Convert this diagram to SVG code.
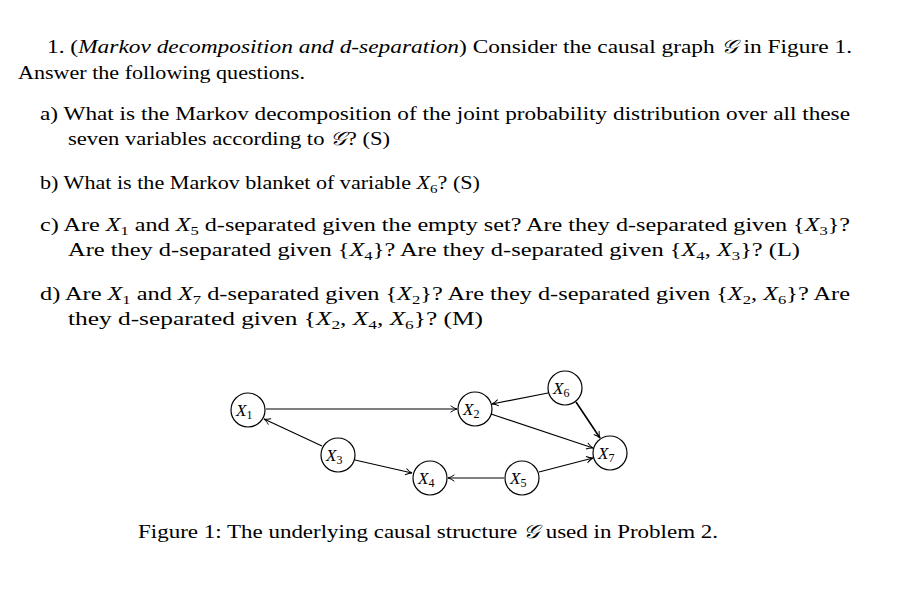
<svg xmlns="http://www.w3.org/2000/svg" width="906" height="600" viewBox="0 0 906 600">
<style>
text{font-family:"Liberation Serif","DejaVu Serif",serif;font-size:19px;fill:#000}
.i{font-style:italic}
.s{font-size:13px;font-style:normal}
.n circle{fill:#fff;stroke:#000;stroke-width:1.2}
.n text{font-size:17px;font-style:italic}
.n .s{font-style:normal;font-size:12px}
#edges line{stroke:#000;stroke-width:1.2;marker-end:url(#a)}
</style>
<defs><marker id="a" viewBox="0 0 10 10" refX="9" refY="5" markerWidth="8" markerHeight="8" orient="auto" markerUnits="userSpaceOnUse"><path d="M1,1 Q5,4 9,5 Q5,6 1,9" fill="none" stroke="#000" stroke-width="1.2"/></marker></defs>
<rect width="906" height="600" fill="#fff"/>
<text x="47" y="53" textLength="805" lengthAdjust="spacingAndGlyphs">1. (<tspan class="i">Markov decomposition and d-separation</tspan>) Consider the causal graph <tspan class="i">𝒢</tspan>  in Figure 1.</text>
<text x="18" y="79" textLength="287" lengthAdjust="spacingAndGlyphs">Answer the following questions.</text>
<text x="40" y="120" textLength="810" lengthAdjust="spacingAndGlyphs">a) What is the Markov decomposition of the joint probability distribution over all these</text>
<text x="68" y="145" textLength="322" lengthAdjust="spacingAndGlyphs">seven variables according to <tspan class="i">𝒢</tspan>? (S)</text>
<text x="40" y="189" textLength="440" lengthAdjust="spacingAndGlyphs">b) What is the Markov blanket of variable <tspan class="i">X</tspan><tspan class="s" dy="4">6</tspan><tspan dy="-4">? (S)</tspan></text>
<text x="40" y="231" textLength="810" lengthAdjust="spacingAndGlyphs">c) Are <tspan class="i">X</tspan><tspan class="s" dy="4">1</tspan><tspan dy="-4"> and </tspan><tspan class="i">X</tspan><tspan class="s" dy="4">5</tspan><tspan dy="-4"> d-separated given the empty set? Are they d-separated given {</tspan><tspan class="i">X</tspan><tspan class="s" dy="4">3</tspan><tspan dy="-4">}?</tspan></text>
<text x="68" y="256" textLength="732" lengthAdjust="spacingAndGlyphs">Are they d-separated given {<tspan class="i">X</tspan><tspan class="s" dy="4">4</tspan><tspan dy="-4">}? Are they d-separated given {</tspan><tspan class="i">X</tspan><tspan class="s" dy="4">4</tspan><tspan dy="-4">, </tspan><tspan class="i">X</tspan><tspan class="s" dy="4">3</tspan><tspan dy="-4">}? (L)</tspan></text>
<text x="40" y="300" textLength="810" lengthAdjust="spacingAndGlyphs">d) Are <tspan class="i">X</tspan><tspan class="s" dy="4">1</tspan><tspan dy="-4"> and </tspan><tspan class="i">X</tspan><tspan class="s" dy="4">7</tspan><tspan dy="-4"> d-separated given {</tspan><tspan class="i">X</tspan><tspan class="s" dy="4">2</tspan><tspan dy="-4">}? Are they d-separated given {</tspan><tspan class="i">X</tspan><tspan class="s" dy="4">2</tspan><tspan dy="-4">, </tspan><tspan class="i">X</tspan><tspan class="s" dy="4">6</tspan><tspan dy="-4">}? Are</tspan></text>
<text x="68" y="325" textLength="415" lengthAdjust="spacingAndGlyphs">they d-separated given {<tspan class="i">X</tspan><tspan class="s" dy="4">2</tspan><tspan dy="-4">, </tspan><tspan class="i">X</tspan><tspan class="s" dy="4">4</tspan><tspan dy="-4">, </tspan><tspan class="i">X</tspan><tspan class="s" dy="4">6</tspan><tspan dy="-4">}? (M)</tspan></text>
<g id="edges">
<line x1="266" y1="409" x2="457" y2="409"/>
<line x1="322" y1="446" x2="264" y2="419"/>
<line x1="355" y1="460" x2="412" y2="473"/>
<line x1="504" y1="478" x2="448" y2="478"/>
<line x1="539" y1="472" x2="593" y2="458"/>
<line x1="548" y1="393" x2="492" y2="404"/>
<line x1="576" y1="402" x2="600" y2="438" style="stroke-width:1.6"/>
<line x1="491" y1="414" x2="593" y2="448"/>
</g>
<g id="X1" class="n"><circle cx="248" cy="410" r="17"/><text x="236" y="416">X<tspan class="s" dy="3">1</tspan></text></g>
<g id="X2" class="n"><circle cx="475" cy="409" r="17"/><text x="463" y="415">X<tspan class="s" dy="3">2</tspan></text></g>
<g id="X3" class="n"><circle cx="338" cy="455" r="17"/><text x="326" y="461">X<tspan class="s" dy="3">3</tspan></text></g>
<g id="X4" class="n"><circle cx="430" cy="478" r="17"/><text x="418" y="484">X<tspan class="s" dy="3">4</tspan></text></g>
<g id="X5" class="n"><circle cx="522" cy="478" r="17"/><text x="510" y="484">X<tspan class="s" dy="3">5</tspan></text></g>
<g id="X6" class="n"><circle cx="565" cy="388" r="17"/><text x="553" y="394">X<tspan class="s" dy="3">6</tspan></text></g>
<g id="X7" class="n"><circle cx="610" cy="453" r="17"/><text x="598" y="459">X<tspan class="s" dy="3">7</tspan></text></g>
<text x="138" y="538" textLength="580" lengthAdjust="spacingAndGlyphs">Figure 1: The underlying causal structure <tspan class="i">𝒢</tspan>  used in Problem 2.</text>
</svg>
